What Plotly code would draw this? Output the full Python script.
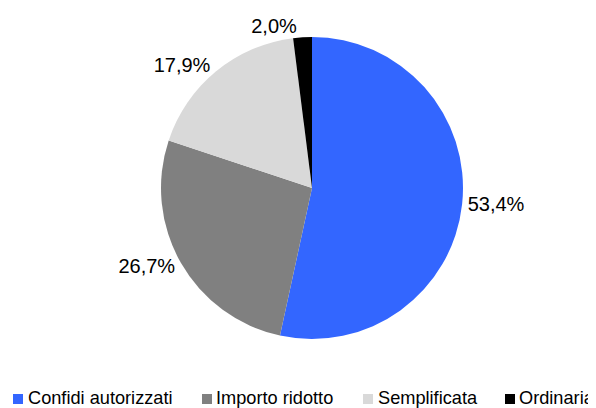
import plotly.graph_objects as go

labels = ["Confidi autorizzati", "Importo ridotto", "Semplificata", "Ordinaria"]
values = [53.4, 26.7, 17.9, 2.0]
colors = ["#3366FF", "#808080", "#D9D9D9", "#000000"]

W, H = 596, 408
off = 8  # page body margin
cx, cy, r = 312 - off, 188 - off, 151
FONT = "Liberation Sans, Arial, sans-serif"

fig = go.Figure(go.Pie(
    labels=labels,
    values=values,
    sort=False,
    direction="clockwise",
    rotation=0,
    marker=dict(colors=colors, line=dict(width=0)),
    texttemplate="%{value:.1f}%",
    textposition="outside",
    textfont=dict(family=FONT, size=20, color="#000000"),
    outsidetextfont=dict(family=FONT, size=20, color="#000000"),
    domain=dict(x=[(cx - r) / W, (cx + r) / W], y=[(H - cy - r) / H, (H - cy + r) / H]),
    automargin=False,
    showlegend=False,
    hoverinfo="label+value",
))

# legend: colour square + label (page pixel layout)
sq_x = [13, 202, 363, 505]      # left edge of each legend square
txt_x = [27, 215, 377, 518]     # left edge of each legend label
sq_top, sq_bot = 394, 404
legend_y = 398


def px(x):
    return (x - off) / W


def py(y):
    return (H - (y - off)) / H


for sx, tx, l, c in zip(sq_x, txt_x, labels, colors):
    fig.add_shape(
        type="rect", xref="paper", yref="paper",
        x0=px(sx), x1=px(sx + 10), y0=py(sq_bot), y1=py(sq_top),
        fillcolor=c, line=dict(width=0),
    )
    fig.add_annotation(
        text=l,
        xref="paper", yref="paper",
        x=px(tx - 1), y=py(legend_y),
        xanchor="left", yanchor="middle",
        showarrow=False,
        font=dict(family=FONT, size=18.2, color="#000000"),
    )

fig.update_layout(
    width=W, height=H,
    separators=",.",
    margin=dict(l=0, r=0, t=0, b=0),
    paper_bgcolor="white",
    plot_bgcolor="white",
    font=dict(family=FONT, color="#000000"),
)

fig.write_html("out.html")
